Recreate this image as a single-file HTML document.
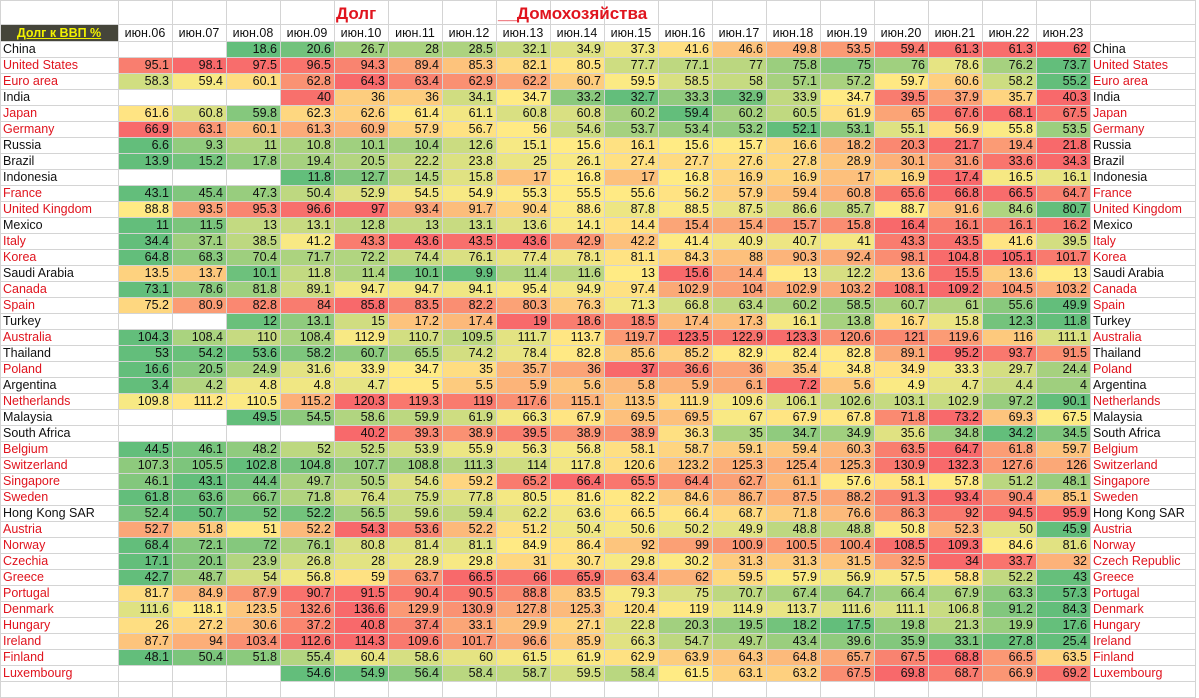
<!DOCTYPE html>
<html><head><meta charset="utf-8">
<style>
body{margin:0;width:1199px;height:690px;overflow:hidden;background:#fff;font-family:"Liberation Sans",Arial,sans-serif;position:relative}
table{border-collapse:collapse;table-layout:fixed;position:absolute;left:0;top:0}
td{border:1px solid #d4d4d4;padding:0 3px 0 2px;font-size:12.5px;height:15px;line-height:15px;white-space:nowrap;overflow:hidden;color:#111;text-align:right}
tr.h1 td{height:23px}
tr.h2 td{height:16px;text-align:center;font-size:12.5px}
td.n{text-align:left;color:#111}
td.r{color:#e0141e}
td.corner{background:#45453a;color:#f2f200;font-weight:bold;text-decoration:underline;text-align:left}
.t{position:absolute;top:4px;color:#e0141e;font-weight:bold;font-size:17px}
</style></head><body>
<table id="tb">
<colgroup><col style="width:118px"><col span="18" style="width:54px"><col style="width:105px"></colgroup>
<tr class="h1"><td></td><td></td><td></td><td></td><td></td><td></td><td></td><td></td><td></td><td></td><td></td><td></td><td></td><td></td><td></td><td></td><td></td><td></td><td></td><td></td></tr>
<tr class="h2"><td class="corner">Долг к ВВП %</td><td>июн.06</td><td>июн.07</td><td>июн.08</td><td>июн.09</td><td>июн.10</td><td>июн.11</td><td>июн.12</td><td>июн.13</td><td>июн.14</td><td>июн.15</td><td>июн.16</td><td>июн.17</td><td>июн.18</td><td>июн.19</td><td>июн.20</td><td>июн.21</td><td>июн.22</td><td>июн.23</td><td></td></tr>
</table>
<div class="t" style="left:336px">Долг</div>
<div class="t" style="left:498px">__Домохозяйства</div>
<script>
var D=[
["China",0,",,18.6,20.6,26.7,28,28.5,32.1,34.9,37.3,41.6,46.6,49.8,53.5,59.4,61.3,61.3,62"],
["United States",1,"95.1,98.1,97.5,96.5,94.3,89.4,85.3,82.1,80.5,77.7,77.1,77,75.8,75,76,78.6,76.2,73.7"],
["Euro area",1,"58.3,59.4,60.1,62.8,64.3,63.4,62.9,62.2,60.7,59.5,58.5,58,57.1,57.2,59.7,60.6,58.2,55.2"],
["India",0,",,,40,36,36,34.1,34.7,33.2,32.7,33.3,32.9,33.9,34.7,39.5,37.9,35.7,40.3"],
["Japan",1,"61.6,60.8,59.8,62.3,62.6,61.4,61.1,60.8,60.8,60.2,59.4,60.2,60.5,61.9,65,67.6,68.1,67.5"],
["Germany",1,"66.9,63.1,60.1,61.3,60.9,57.9,56.7,56,54.6,53.7,53.4,53.2,52.1,53.1,55.1,56.9,55.8,53.5"],
["Russia",0,"6.6,9.3,11,10.8,10.1,10.4,12.6,15.1,15.6,16.1,15.6,15.7,16.6,18.2,20.3,21.7,19.4,21.8"],
["Brazil",0,"13.9,15.2,17.8,19.4,20.5,22.2,23.8,25,26.1,27.4,27.7,27.6,27.8,28.9,30.1,31.6,33.6,34.3"],
["Indonesia",0,",,,11.8,12.7,14.5,15.8,17,16.8,17,16.8,16.9,16.9,17,16.9,17.4,16.5,16.1"],
["France",1,"43.1,45.4,47.3,50.4,52.9,54.5,54.9,55.3,55.5,55.6,56.2,57.9,59.4,60.8,65.6,66.8,66.5,64.7"],
["United Kingdom",1,"88.8,93.5,95.3,96.6,97,93.4,91.7,90.4,88.6,87.8,88.5,87.5,86.6,85.7,88.7,91.6,84.6,80.7"],
["Mexico",0,"11,11.5,13,13.1,12.8,13,13.1,13.6,14.1,14.4,15.4,15.4,15.7,15.8,16.4,16.1,16.1,16.2"],
["Italy",1,"34.4,37.1,38.5,41.2,43.3,43.6,43.5,43.6,42.9,42.2,41.4,40.9,40.7,41,43.3,43.5,41.6,39.5"],
["Korea",1,"64.8,68.3,70.4,71.7,72.2,74.4,76.1,77.4,78.1,81.1,84.3,88,90.3,92.4,98.1,104.8,105.1,101.7"],
["Saudi Arabia",0,"13.5,13.7,10.1,11.8,11.4,10.1,9.9,11.4,11.6,13,15.6,14.4,13,12.2,13.6,15.5,13.6,13"],
["Canada",1,"73.1,78.6,81.8,89.1,94.7,94.7,94.1,95.4,94.9,97.4,102.9,104,102.9,103.2,108.1,109.2,104.5,103.2"],
["Spain",1,"75.2,80.9,82.8,84,85.8,83.5,82.2,80.3,76.3,71.3,66.8,63.4,60.2,58.5,60.7,61,55.6,49.9"],
["Turkey",0,",,12,13.1,15,17.2,17.4,19,18.6,18.5,17.4,17.3,16.1,13.8,16.7,15.8,12.3,11.8"],
["Australia",1,"104.3,108.4,110,108.4,112.9,110.7,109.5,111.7,113.7,119.7,123.5,122.9,123.3,120.6,121,119.6,116,111.1"],
["Thailand",0,"53,54.2,53.6,58.2,60.7,65.5,74.2,78.4,82.8,85.6,85.2,82.9,82.4,82.8,89.1,95.2,93.7,91.5"],
["Poland",1,"16.6,20.5,24.9,31.6,33.9,34.7,35,35.7,36,37,36.6,36,35.4,34.8,34.9,33.3,29.7,24.4"],
["Argentina",0,"3.4,4.2,4.8,4.8,4.7,5,5.5,5.9,5.6,5.8,5.9,6.1,7.2,5.6,4.9,4.7,4.4,4"],
["Netherlands",1,"109.8,111.2,110.5,115.2,120.3,119.3,119,117.6,115.1,113.5,111.9,109.6,106.1,102.6,103.1,102.9,97.2,90.1"],
["Malaysia",0,",,49.5,54.5,58.6,59.9,61.9,66.3,67.9,69.5,69.5,67,67.9,67.8,71.8,73.2,69.3,67.5"],
["South Africa",0,",,,,40.2,39.3,38.9,39.5,38.9,38.9,36.3,35,34.7,34.9,35.6,34.8,34.2,34.5"],
["Belgium",1,"44.5,46.1,48.2,52,52.5,53.9,55.9,56.3,56.8,58.1,58.7,59.1,59.4,60.3,63.5,64.7,61.8,59.7"],
["Switzerland",1,"107.3,105.5,102.8,104.8,107.7,108.8,111.3,114,117.8,120.6,123.2,125.3,125.4,125.3,130.9,132.3,127.6,126"],
["Singapore",1,"46.1,43.1,44.4,49.7,50.5,54.6,59.2,65.2,66.4,65.5,64.4,62.7,61.1,57.6,58.1,57.8,51.2,48.1"],
["Sweden",1,"61.8,63.6,66.7,71.8,76.4,75.9,77.8,80.5,81.6,82.2,84.6,86.7,87.5,88.2,91.3,93.4,90.4,85.1"],
["Hong Kong SAR",0,"52.4,50.7,52,52.2,56.5,59.6,59.4,62.2,63.6,66.5,66.4,68.7,71.8,76.6,86.3,92,94.5,95.9"],
["Austria",1,"52.7,51.8,51,52.2,54.3,53.6,52.2,51.2,50.4,50.6,50.2,49.9,48.8,48.8,50.8,52.3,50,45.9"],
["Norway",1,"68.4,72.1,72,76.1,80.8,81.4,81.1,84.9,86.4,92,99,100.9,100.5,100.4,108.5,109.3,84.6,81.6"],
["Czechia",1,"17.1,20.1,23.9,26.8,28,28.9,29.8,31,30.7,29.8,30.2,31.3,31.3,31.5,32.5,34,33.7,32","Czech Republic"],
["Greece",1,"42.7,48.7,54,56.8,59,63.7,66.5,66,65.9,63.4,62,59.5,57.9,56.9,57.5,58.8,52.2,43"],
["Portugal",1,"81.7,84.9,87.9,90.7,91.5,90.4,90.5,88.8,83.5,79.3,75,70.7,67.4,64.7,66.4,67.9,63.3,57.3"],
["Denmark",1,"111.6,118.1,123.5,132.6,136.6,129.9,130.9,127.8,125.3,120.4,119,114.9,113.7,111.6,111.1,106.8,91.2,84.3"],
["Hungary",1,"26,27.2,30.6,37.2,40.8,37.4,33.1,29.9,27.1,22.8,20.3,19.5,18.2,17.5,19.8,21.3,19.9,17.6"],
["Ireland",1,"87.7,94,103.4,112.6,114.3,109.6,101.7,96.6,85.9,66.3,54.7,49.7,43.4,39.6,35.9,33.1,27.8,25.4"],
["Finland",1,"48.1,50.4,51.8,55.4,60.4,58.6,60,61.5,61.9,62.9,63.9,64.3,64.8,65.7,67.5,68.8,66.5,63.5"],
["Luxembourg",1,",,,54.6,54.9,56.4,58.4,58.7,59.5,58.4,61.5,63.1,63.2,67.5,69.8,68.7,66.9,69.2"]
];
var G=[99,190,123],Y=[255,235,132],R=[248,105,107];
function mix(a,b,t){return "rgb("+a.map(function(v,i){return Math.round(v+(b[i]-v)*t)}).join(",")+")"}
var tb=document.getElementById("tb"),h="";
D.forEach(function(r){
 var v=r[2].split(","),nums=v.filter(function(x){return x!==""}).map(Number).sort(function(a,b){return a-b});
 var mn=nums[0],mx=nums[nums.length-1],n=nums.length,p=(n-1)*0.5,lo=Math.floor(p),md=nums[lo]+(nums[Math.min(lo+1,n-1)]-nums[lo])*(p-lo);
 var c=r[1]?" r":"";
 h+="<tr><td class='n"+c+"'>"+r[0]+"</td>";
 v.forEach(function(x){
  if(x===""){h+="<td></td>";return;}
  var k=Number(x),col;
  if(k<=md)col=mix(G,Y,md>mn?(k-mn)/(md-mn):1);else col=mix(Y,R,mx>md?(k-md)/(mx-md):1);
  h+="<td style='background:"+col+"'>"+x+"</td>";
 });
 h+="<td class='n"+c+"'>"+(r[3]||r[0])+"</td></tr>";
});
h+="<tr><td></td>"+new Array(19).join("<td></td>")+"<td></td></tr>";
tb.insertAdjacentHTML("beforeend",h);
</script>
</body></html>
